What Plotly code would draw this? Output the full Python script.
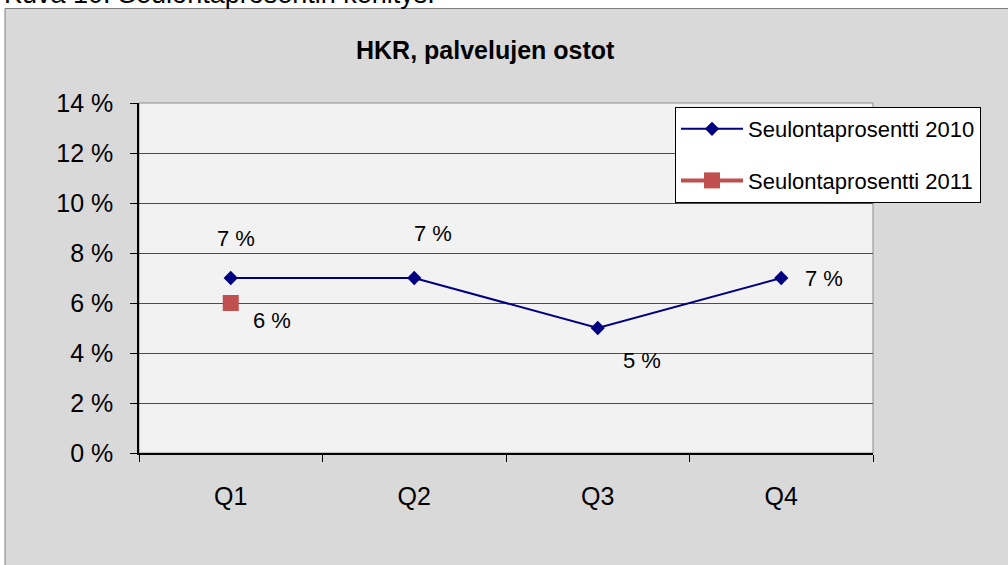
import plotly.graph_objects as go

categories = ["Q1", "Q2", "Q3", "Q4"]
values_2010 = [7, 7, 5, 7]
values_2011 = [6, None, None, None]
labels_2010 = ["7 %", "7 %", "5 %", "7 %"]
labels_2011 = ["6 %", None, None, None]
y_ticks = [0, 2, 4, 6, 8, 10, 12, 14]
y_tick_labels = ["0 %", "2 %", "4 %", "6 %", "8 %", "10 %", "12 %", "14 %"]
series_names = ["Seulontaprosentti 2010", "Seulontaprosentti 2011"]
title_text = "HKR, palvelujen ostot"
caption_text = "Kuva 10. Seulontaprosentin kehitys."

FONT = "Liberation Sans, Arial, sans-serif"
W, H = 1008, 565
L, R, T, B = 139, 135, 103, 112
PW, PH = W - L - R, H - T - B


def px_x(p):
    return (p - L) / PW


def px_y(p):
    return (H - B - p) / PH


fig = go.Figure()
fig.add_trace(go.Scatter(
    x=categories, y=values_2010, mode="lines+markers", name=series_names[0],
    line=dict(color="#000080", width=2),
    marker=dict(symbol="diamond", size=11, color="#000080"),
    legendgroup="a",
))
fig.add_trace(go.Scatter(
    x=categories, y=values_2011, mode="lines+markers", name=series_names[1],
    line=dict(color="#C0504D", width=4),
    marker=dict(symbol="square", size=16, color="#C0504D"),
    legendgroup="b",
))

# data labels (offsets in px relative to each point)
offsets_2010 = [(5, -40), (19, -45), (44, 32), (43, 0)]
offsets_2011 = [(41, 17), None, None, None]
for cat, v, lab, off in zip(categories, values_2010, labels_2010, offsets_2010):
    fig.add_annotation(x=cat, y=v, text=lab, showarrow=False, xshift=off[0], yshift=-off[1],
                       xanchor="center", yanchor="middle",
                       font=dict(family=FONT, size=22, color="#000000"))
for cat, v, lab, off in zip(categories, values_2011, labels_2011, offsets_2011):
    if v is None:
        continue
    fig.add_annotation(x=cat, y=v, text=lab, showarrow=False, xshift=off[0], yshift=-off[1],
                       xanchor="center", yanchor="middle",
                       font=dict(family=FONT, size=22, color="#000000"))

# title
fig.add_annotation(x=px_x(485), y=px_y(50), xref="paper", yref="paper", text="<b>" + title_text + "</b>",
                   xanchor="center", yanchor="middle",
                   showarrow=False, font=dict(family=FONT, size=25, color="#000000"))
# cropped caption at very top
fig.add_annotation(x=px_x(2), y=px_y(-6), xref="paper", yref="paper", text=caption_text,
                   xanchor="left", yanchor="middle", showarrow=False,
                   font=dict(family=FONT, size=27, color="#000000"))

# chart area background and plot area background
fig.add_shape(type="rect", xref="paper", yref="paper", layer="below",
              x0=px_x(5), x1=px_x(1012), y0=px_y(570), y1=px_y(8.5),
              fillcolor="#D9D9D9", line=dict(color="#7F7F7F", width=1))
fig.add_shape(type="rect", xref="paper", yref="paper", layer="below",
              x0=0, x1=1, y0=0, y1=1,
              fillcolor="#F2F2F2", line=dict(color="#8C8C8C", width=1))

fig.update_layout(
    width=W, height=H,
    margin=dict(l=L, r=R, t=T, b=B),
    paper_bgcolor="#FFFFFF",
    plot_bgcolor="rgba(0,0,0,0)",
    font=dict(family=FONT, size=22, color="#000000"),
    showlegend=True,
    legend=dict(
        x=px_x(675), y=px_y(107), xanchor="left", yanchor="top",
        bgcolor="#FFFFFF", bordercolor="#000000", borderwidth=1,
        font=dict(family=FONT, size=22, color="#000000"),
        tracegroupgap=20, traceorder="grouped", itemwidth=62,
    ),
)
fig.update_xaxes(
    type="category", range=[-0.5, 3.5], tickson="boundaries",
    ticks="outside", ticklen=7, tickcolor="#000000", tickwidth=1,
    showline=True, linecolor="#000000", linewidth=1.5,
    showgrid=False, ticklabelstandoff=20,
    tickfont=dict(family=FONT, size=25, color="#000000"),
)
fig.update_yaxes(
    range=[0, 14], tickmode="array", tickvals=y_ticks, ticktext=y_tick_labels,
    ticks="outside", ticklen=7, tickcolor="#000000", tickwidth=1,
    showline=True, linecolor="#000000", linewidth=1.5,
    showgrid=True, gridcolor="#4D4D4D", gridwidth=1, zeroline=False,
    ticklabelstandoff=12,
    tickfont=dict(family=FONT, size=25, color="#000000"),
)

fig.write_html("out.html", config={"displayModeBar": False},
               post_script="document.body.style.margin='0';document.body.style.overflow='hidden';")
